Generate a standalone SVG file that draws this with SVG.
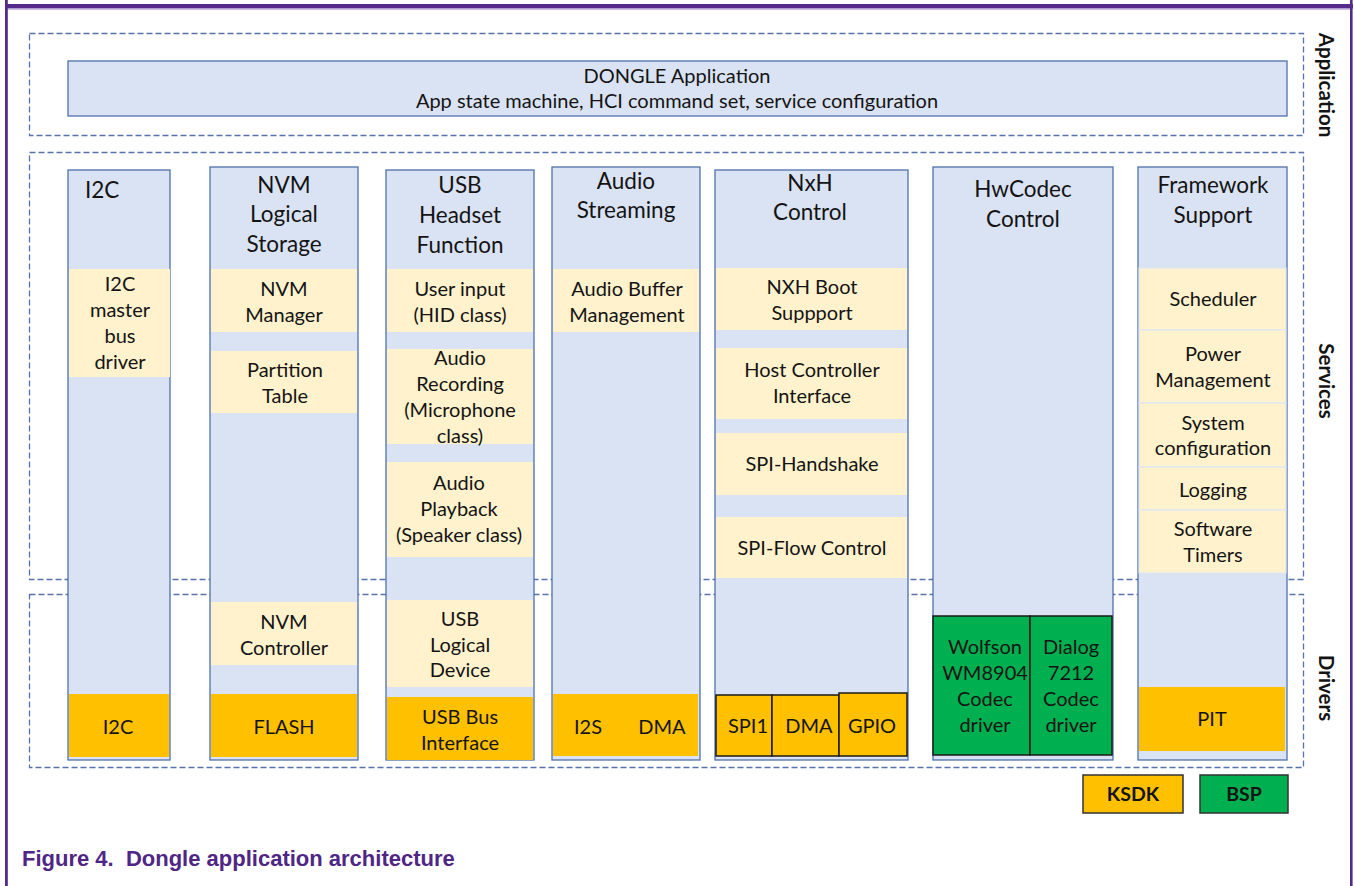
<svg xmlns="http://www.w3.org/2000/svg" width="1354" height="886" viewBox="0 0 1354 886">
  <style>
    .bg { fill: #ffffff; }
    .frame { fill: #552a8a; }
    .frame-light { fill: #b9a5d6; }
    .layer { fill: none; stroke: #5673ad; stroke-width: 1.3; stroke-dasharray: 6 3; }
    .col { fill: #dae3f3; stroke: #5070ab; stroke-width: 1.3; }
    .svc { fill: #fff2cc; }
    .svc-sep { fill: #fff2cc; stroke: #dde6f5; stroke-width: 1.2; }
    .drv { fill: #ffc000; }
    .drv-b { fill: #ffc000; stroke: #1a1a1a; stroke-width: 1.5; }
    .bsp { fill: #00b050; stroke: #1a1a1a; stroke-width: 1.5; }
    .legend-k { fill: #ffc000; stroke: #333333; stroke-width: 1.5; }
    .legend-b { fill: #00b050; stroke: #333333; stroke-width: 1.5; }
    text { font-family: Lato, "Noto Sans", "Liberation Sans", sans-serif; fill: #141414; }
    .t { font-size: 20px; text-anchor: middle; }
    .h { font-size: 22.5px; text-anchor: middle; }
    .side { font-size: 20.5px; font-weight: bold; text-anchor: middle; }
    .lg { font-size: 19.5px; font-weight: bold; text-anchor: middle; }
    .cap { font-family: "Liberation Sans", Arial, sans-serif; font-size: 22px; font-weight: bold; fill: #4f2585; }
  </style>

  <rect class="bg" x="0" y="0" width="1354" height="886"/>

  <!-- page frame -->
  <g id="frame">
    <rect class="frame" x="5" y="4" width="1348" height="4.5"/>
    <rect class="frame-light" x="8" y="8.5" width="1342" height="1.2"/>
    <rect class="frame" x="5" y="0" width="2.8" height="886"/>
    <rect class="frame" x="1350" y="0" width="2.6" height="886"/>
  </g>

  <!-- layer boundaries -->
  <g id="layers">
    <rect class="layer" x="29.5" y="33.5" width="1274" height="102"/>
    <rect class="layer" x="29.5" y="152.5" width="1274" height="427"/>
    <rect class="layer" x="29.5" y="594.5" width="1274" height="173"/>
    <text class="side" transform="translate(1319,85) rotate(90)">Application</text>
    <text class="side" transform="translate(1319,381) rotate(90)">Services</text>
    <text class="side" transform="translate(1319,688) rotate(90)">Drivers</text>
  </g>

  <!-- application -->
  <g id="dongle-app">
    <rect class="col" x="68" y="61" width="1219" height="55"/>
    <text class="t" x="677" y="83">DONGLE Application</text>
    <text class="t" x="677" y="108">App state machine, HCI command set, service configuration</text>
  </g>

  <!-- I2C column -->
  <g id="col-i2c">
    <rect class="col" x="68" y="170" width="102" height="590"/>
    <text class="h" x="85" y="198" style="text-anchor:start">I2C</text>
    <rect class="svc" x="69" y="269" width="101" height="108"/>
    <text class="t" x="120" y="291">I2C</text>
    <text class="t" x="120" y="317">master</text>
    <text class="t" x="120" y="343">bus</text>
    <text class="t" x="120" y="369">driver</text>
    <rect class="drv" x="69" y="694" width="100" height="63"/>
    <text class="t" x="118" y="734">I2C</text>
  </g>

  <!-- NVM column -->
  <g id="col-nvm">
    <rect class="col" x="210" y="167" width="148" height="593"/>
    <text class="h" x="284" y="193">NVM</text>
    <text class="h" x="284" y="222">Logical</text>
    <text class="h" x="284" y="252">Storage</text>
    <rect class="svc" x="211" y="269" width="146" height="63"/>
    <text class="t" x="284" y="296">NVM</text>
    <text class="t" x="284" y="322">Manager</text>
    <rect class="svc" x="211" y="351" width="146" height="62"/>
    <text class="t" x="285" y="377">Partition</text>
    <text class="t" x="285" y="403">Table</text>
    <rect class="svc" x="211" y="602" width="146" height="63"/>
    <text class="t" x="284" y="629">NVM</text>
    <text class="t" x="284" y="655">Controller</text>
    <rect class="drv" x="211" y="694" width="146" height="63"/>
    <text class="t" x="284" y="734">FLASH</text>
  </g>

  <!-- USB column -->
  <g id="col-usb">
    <rect class="col" x="386" y="170" width="148" height="590"/>
    <text class="h" x="460" y="193">USB</text>
    <text class="h" x="460" y="223">Headset</text>
    <text class="h" x="460" y="253">Function</text>
    <rect class="svc" x="387" y="269" width="146" height="63"/>
    <text class="t" x="460" y="296">User input</text>
    <text class="t" x="460" y="322">(HID class)</text>
    <rect class="svc" x="387" y="349" width="146" height="95"/>
    <text class="t" x="460" y="365">Audio</text>
    <text class="t" x="460" y="391">Recording</text>
    <text class="t" x="460" y="417">(Microphone</text>
    <text class="t" x="460" y="443">class)</text>
    <rect class="svc" x="387" y="462" width="146" height="95"/>
    <text class="t" x="459" y="490">Audio</text>
    <text class="t" x="459" y="516">Playback</text>
    <text class="t" x="459" y="542">(Speaker class)</text>
    <rect class="svc" x="387" y="600" width="146" height="87"/>
    <text class="t" x="460" y="626">USB</text>
    <text class="t" x="460" y="652">Logical</text>
    <text class="t" x="460" y="677">Device</text>
    <rect class="drv" x="387" y="697" width="146" height="63"/>
    <text class="t" x="460" y="724">USB Bus</text>
    <text class="t" x="460" y="750">Interface</text>
  </g>

  <!-- Audio streaming column -->
  <g id="col-audio">
    <rect class="col" x="552" y="167" width="148" height="593"/>
    <text class="h" x="626" y="189">Audio</text>
    <text class="h" x="626" y="218">Streaming</text>
    <rect class="svc" x="553" y="269" width="146" height="63"/>
    <text class="t" x="627" y="296">Audio Buffer</text>
    <text class="t" x="627" y="322">Management</text>
    <rect class="drv" x="553" y="694" width="145" height="62"/>
    <text class="t" x="588" y="734">I2S</text>
    <text class="t" x="662" y="734">DMA</text>
  </g>

  <!-- NxH column -->
  <g id="col-nxh">
    <rect class="col" x="715" y="170" width="193" height="590"/>
    <text class="h" x="810" y="191">NxH</text>
    <text class="h" x="810" y="220">Control</text>
    <rect class="svc" x="716" y="268" width="191" height="62"/>
    <text class="t" x="812" y="294">NXH Boot</text>
    <text class="t" x="812" y="320">Suppport</text>
    <rect class="svc" x="716" y="348" width="191" height="71"/>
    <text class="t" x="812" y="377">Host Controller</text>
    <text class="t" x="812" y="403">Interface</text>
    <rect class="svc" x="716" y="433" width="191" height="62"/>
    <text class="t" x="812" y="471">SPI-Handshake</text>
    <rect class="svc" x="716" y="517" width="191" height="61"/>
    <text class="t" x="812" y="555">SPI-Flow Control</text>
    <rect class="drv-b" x="716" y="695" width="56" height="61"/>
    <rect class="drv-b" x="772" y="695" width="67" height="61"/>
    <rect class="drv-b" x="839" y="693" width="68" height="63"/>
    <text class="t" x="748" y="733">SPI1</text>
    <text class="t" x="809" y="733">DMA</text>
    <text class="t" x="872" y="733">GPIO</text>
  </g>

  <!-- HwCodec column -->
  <g id="col-hwcodec">
    <rect class="col" x="933" y="167" width="180" height="593"/>
    <text class="h" x="1023" y="197">HwCodec</text>
    <text class="h" x="1023" y="227">Control</text>
    <rect class="bsp" x="933" y="616" width="97" height="139"/>
    <rect class="bsp" x="1030" y="616" width="82" height="139"/>
    <text class="t" x="985" y="654">Wolfson</text>
    <text class="t" x="985" y="680">WM8904</text>
    <text class="t" x="985" y="706">Codec</text>
    <text class="t" x="985" y="732">driver</text>
    <text class="t" x="1071" y="654">Dialog</text>
    <text class="t" x="1071" y="680">7212</text>
    <text class="t" x="1071" y="706">Codec</text>
    <text class="t" x="1071" y="732">driver</text>
  </g>

  <!-- Framework column -->
  <g id="col-framework">
    <rect class="col" x="1138" y="167" width="149" height="593"/>
    <text class="h" x="1213" y="193">Framework</text>
    <text class="h" x="1213" y="223">Support</text>
    <rect class="svc-sep" x="1139" y="268" width="147" height="62"/>
    <text class="t" x="1213" y="306">Scheduler</text>
    <rect class="svc-sep" x="1139" y="330" width="147" height="73"/>
    <text class="t" x="1213" y="361">Power</text>
    <text class="t" x="1213" y="387">Management</text>
    <rect class="svc-sep" x="1139" y="403" width="147" height="64"/>
    <text class="t" x="1213" y="430">System</text>
    <text class="t" x="1213" y="455">configuration</text>
    <rect class="svc-sep" x="1139" y="467" width="147" height="43"/>
    <text class="t" x="1213" y="497">Logging</text>
    <rect class="svc-sep" x="1139" y="510" width="147" height="63"/>
    <text class="t" x="1213" y="536">Software</text>
    <text class="t" x="1213" y="562">Timers</text>
    <rect class="drv" x="1139" y="687" width="146" height="64"/>
    <text class="t" x="1212" y="726">PIT</text>
  </g>

  <!-- legend -->
  <g id="legend">
    <rect class="legend-k" x="1083" y="775" width="100" height="38"/>
    <text class="lg" x="1133" y="801">KSDK</text>
    <rect class="legend-b" x="1200" y="775" width="88" height="38"/>
    <text class="lg" x="1244" y="801">BSP</text>
  </g>

  <!-- no connectors in this layered view -->
  <g id="connectors"/>

  <text class="cap" x="22" y="866" xml:space="preserve">Figure 4.&#160; Dongle application architecture</text>
</svg>
